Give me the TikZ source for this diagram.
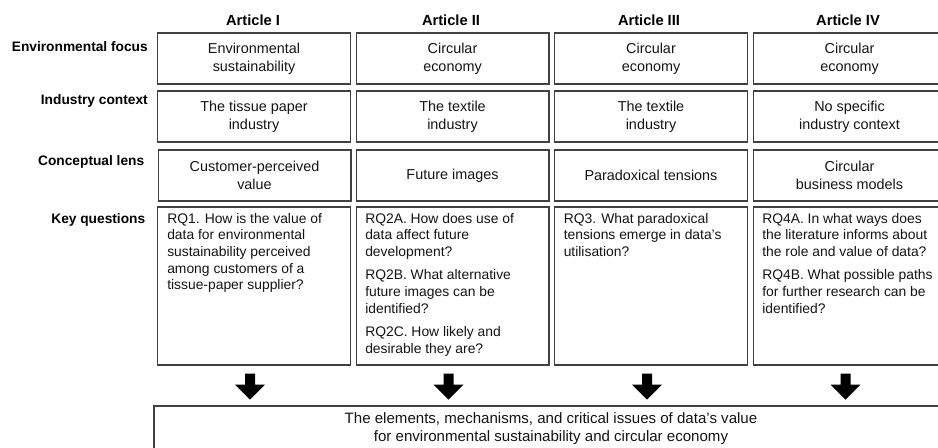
\documentclass[tikz,border=0pt]{standalone}
\usepackage{fontspec}
\setmainfont{Liberation Sans}
\usetikzlibrary{calc}
\definecolor{bordergray}{RGB}{64,64,64}
\definecolor{txt}{RGB}{20,20,20}
\tikzset{
  cell/.style={draw=bordergray, line width=1.1pt, minimum width=144.4pt, minimum height=38.25pt,
    inner sep=0pt, align=center, text=txt, font=\fontsize{10.8}{13.5}\selectfont},
  qcell/.style={cell, minimum height=118.5pt},
  qtext/.style={anchor=north west, inner sep=0pt, align=left, text=txt, font=\fontsize{10.4}{12.5}\selectfont},
  rowlabel/.style={anchor=east, inner sep=0pt, font=\fontsize{10.3}{12}\selectfont\bfseries},
  coltitle/.style={inner sep=0pt, font=\fontsize{11}{13}\selectfont\bfseries},
  resbox/.style={draw=bordergray, line width=1.1pt, minimum width=595.5pt, minimum height=45pt, inner sep=0pt},
  restext/.style={inner sep=0pt, align=center, text=txt, font=\fontsize{11.3}{13.5}\selectfont},
  blockarrow/.style={fill=black, draw=none}
}
\begin{document}
\begin{tikzpicture}[x=0.75pt,y=-0.75pt]
\useasboundingbox (0,0) rectangle (938,448);
\clip (0,0) rectangle (938,448);

% column titles
\node[coltitle] (h1) at (253,20) {Article I};
\node[coltitle] (h2) at (451,20) {Article II};
\node[coltitle] (h3) at (649,20) {Article III};
\node[coltitle] (h4) at (848,20) {Article IV};

% row labels
\node[rowlabel] (l1) at (148,46.5) {Environmental focus};
\node[rowlabel] (l2) at (148,100.5) {Industry context};
\node[rowlabel] (l3) at (144.5,162) {Conceptual lens};
\node[rowlabel] (l4) at (145.5,220) {Key questions};

% row 1
\node[cell] (e1) at (254,58.5) {Environmental\\sustainability};
\node[cell] (e2) at (452.5,58.5) {Circular\\economy};
\node[cell] (e3) at (651,58.5) {Circular\\economy};
\node[cell] (e4) at (849.5,58.5) {Circular\\economy};

% row 2
\node[cell] (i1) at (254,116.5) {The tissue paper\\industry};
\node[cell] (i2) at (452.5,116.5) {The textile\\industry};
\node[cell] (i3) at (651,116.5) {The textile\\industry};
\node[cell] (i4) at (849.5,116.5) {No specific\\industry context};

% row 3
\node[cell] (c1) at (254.5,175.5) {Customer-perceived\\value};
\node[cell] (c2) at (452.5,175.5) {Future images};
\node[cell] (c3) at (651,175.5) {Paradoxical tensions};
\node[cell] (c4) at (849.5,175.5) {Circular\\business models};

% row 4
\node[qcell] (q1) at (254,286) {};
\node[qcell] (q2) at (452.5,286) {};
\node[qcell] (q3) at (651,286) {};
\node[qcell] (q4) at (849.5,286) {};

\node[qtext] (t1) at ($(q1.north west)+(10,6.5)$) {RQ1. How is the value of\\data for environmental\\sustainability perceived\\among customers of a\\tissue-paper supplier?};
\node[qtext] (t2) at ($(q2.north west)+(9.5,6.5)$) {RQ2A. How does use of\\data affect future\\development?\\[5pt]RQ2B. What alternative\\future images can be\\identified?\\[5pt]RQ2C. How likely and\\desirable they are?};
\node[qtext] (t3) at ($(q3.north west)+(9.5,6.5)$) {RQ3. What paradoxical\\tensions emerge in data’s\\utilisation?};
\node[qtext] (t4) at ($(q4.north west)+(9.5,6.5)$) {RQ4A. In what ways does\\the literature informs about\\the role and value of data?\\[5pt]RQ4B. What possible paths\\for further research can be\\identified?};

% result box
\node[resbox] (res) at (551,436) {};
\node[restext] (rt) at (551,429) {The elements, mechanisms, and critical issues of data’s value\\for environmental sustainability and circular economy};

% block arrows
\foreach \n in {q1,q2,q3,q4}{
  \fill[blockarrow] (\n.south) ++(-9,8) -- ++(10,0) -- ++(0,11) -- ++(10,0) -- ++(-15,15) -- ++(-15,-15) -- ++(10,0) -- cycle;
}
\end{tikzpicture}
\end{document}
